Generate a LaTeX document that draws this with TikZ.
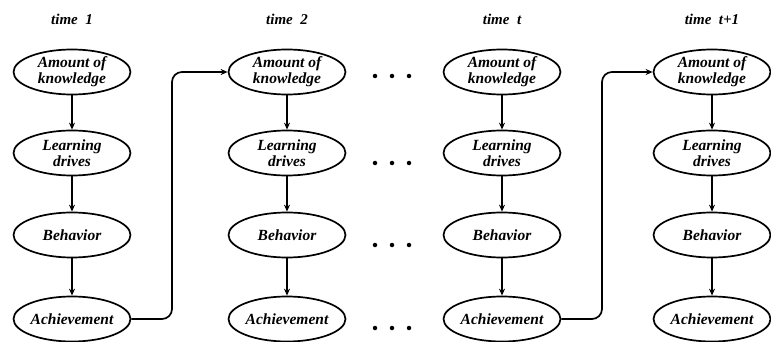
\documentclass[tikz,border=0pt]{standalone}
\usepackage{fontspec}
\setmainfont{Liberation Serif}
\usetikzlibrary{shapes.geometric,arrows.meta}
\begin{document}
\begin{tikzpicture}[x=1pt,y=-1pt,
  stage/.style={ellipse,draw,line width=1.7pt,minimum width=117pt,minimum height=45pt,inner sep=0pt,
    font=\fontsize{15.5}{16}\selectfont\bfseries\itshape,align=center},
  title/.style={font=\fontsize{15}{15}\selectfont\bfseries\itshape},
  flow/.style={line width=1.7pt,-{Stealth[length=7pt,width=6pt]}},
  dotmark/.style={circle,fill,inner sep=0pt,minimum size=4.5pt}]
\useasboundingbox (0,0) rectangle (771,342);
\foreach \c/\x/\t in {a/72/time\ \ 1,b/287/time\ \ 2,c/502/time\ \ t,d/712/time\ \ t+1}{
  \node[title] (t\c) at (\x,19) {\t};
  \node[stage] (\c1) at (\x,72) {Amount of\\knowledge};
  \node[stage] (\c2) at (\x,153) {Learning\\drives};
  \node[stage] (\c3) at (\x,235) {Behavior};
  \node[stage] (\c4) at (\x,319) {Achievement};
  \draw[flow] (\c1) -- (\c2);
  \draw[flow] (\c2) -- (\c3);
  \draw[flow] (\c3) -- (\c4);
}
\foreach \r/\y in {1/76,2/163,3/245,4/328}{
  \node[dotmark] (p\r a) at (375,\y) {};
  \node[dotmark] (p\r b) at (392,\y) {};
  \node[dotmark] (p\r c) at (409,\y) {};
}
\coordinate (k1) at (172,319);
\coordinate (k2) at (602,319);
\draw[flow,rounded corners=10pt] (a4.east) -- (k1) |- (b1.west);
\draw[flow,rounded corners=10pt] (c4.east) -- (k2) |- (d1.west);
\end{tikzpicture}
\end{document}
